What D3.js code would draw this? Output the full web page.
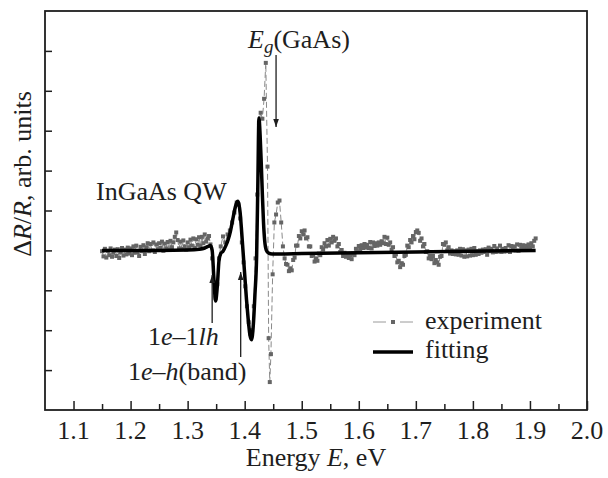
<!DOCTYPE html>
<html>
<head>
<meta charset="utf-8">
<script src="https://cdn.jsdelivr.net/npm/d3@7"></script>
<style>
  body { margin: 0; background: #fff; }
  svg { display: block; font-family: "Liberation Serif", "DejaVu Serif", serif; }
</style>
</head>
<body>
<svg id="chart" width="608" height="478"></svg>
<script>
// experiment: energy (eV) and dR/R (arb. units)
const expE = [
  1.1500, 1.1525, 1.1550, 1.1575, 1.1600, 1.1625, 1.1650, 1.1675, 1.1700, 1.1725,
  1.1750, 1.1775, 1.1800, 1.1825, 1.1850, 1.1875, 1.1900, 1.1925, 1.1950, 1.1975,
  1.2000, 1.2025, 1.2050, 1.2075, 1.2100, 1.2125, 1.2150, 1.2175, 1.2200, 1.2225,
  1.2250, 1.2275, 1.2300, 1.2325, 1.2350, 1.2375, 1.2400, 1.2425, 1.2450, 1.2475,
  1.2500, 1.2525, 1.2550, 1.2575, 1.2600, 1.2625, 1.2650, 1.2675, 1.2700, 1.2725,
  1.2750, 1.2775, 1.2800, 1.2825, 1.2850, 1.2875, 1.2900, 1.2925, 1.2950, 1.2975,
  1.3000, 1.3025, 1.3050, 1.3075, 1.3100, 1.3125, 1.3150, 1.3175, 1.3200, 1.3225,
  1.3250, 1.3275, 1.3300, 1.3325, 1.3350, 1.3375, 1.3400,
  1.343, 1.346, 1.349, 1.352, 1.355, 1.358, 1.362, 1.366, 1.370, 1.374,
  1.378, 1.382, 1.386, 1.389, 1.392, 1.395, 1.398, 1.401, 1.404, 1.407,
  1.410, 1.413, 1.416, 1.419, 1.422, 1.425, 1.428, 1.431, 1.434, 1.437,
  1.440, 1.442, 1.444, 1.446, 1.449, 1.452, 1.455, 1.458, 1.461, 1.464,
  1.467,
  1.4700, 1.4725, 1.4750, 1.4775, 1.4800, 1.4825, 1.4850, 1.4875, 1.4900, 1.4925,
  1.4950, 1.4975, 1.5000, 1.5025, 1.5050, 1.5075, 1.5100, 1.5125, 1.5150, 1.5175,
  1.5200, 1.5225, 1.5250, 1.5275, 1.5300, 1.5325, 1.5350, 1.5375, 1.5400, 1.5425,
  1.5450, 1.5475, 1.5500, 1.5525, 1.5550, 1.5575, 1.5600, 1.5625, 1.5650, 1.5675,
  1.5700, 1.5725, 1.5750, 1.5775, 1.5800, 1.5825, 1.5850, 1.5875, 1.5900, 1.5925,
  1.5950, 1.5975, 1.6000, 1.6025, 1.6050, 1.6075, 1.6100, 1.6125, 1.6150, 1.6175,
  1.6200, 1.6225, 1.6250, 1.6275, 1.6300, 1.6325, 1.6350, 1.6375, 1.6400, 1.6425,
  1.6450, 1.6475, 1.6500, 1.6525, 1.6550, 1.6575, 1.6600, 1.6625, 1.6650, 1.6675,
  1.6700, 1.6725, 1.6750, 1.6775, 1.6800, 1.6825, 1.6850, 1.6875, 1.6900, 1.6925,
  1.6950, 1.6975, 1.7000, 1.7025, 1.7050, 1.7075, 1.7100, 1.7125, 1.7150, 1.7175,
  1.7200, 1.7225, 1.7250, 1.7275, 1.7300, 1.7325, 1.7350, 1.7375, 1.7400, 1.7425,
  1.7450, 1.7475, 1.7500, 1.7525, 1.7550, 1.7575, 1.7600, 1.7625, 1.7650, 1.7675,
  1.7700, 1.7725, 1.7750, 1.7775, 1.7800, 1.7825, 1.7850, 1.7875, 1.7900, 1.7925,
  1.7950, 1.7975, 1.8000, 1.8025, 1.8050, 1.8075, 1.8100, 1.8125, 1.8150, 1.8175,
  1.8200, 1.8225, 1.8250, 1.8275, 1.8300, 1.8325, 1.8350, 1.8375, 1.8400, 1.8425,
  1.8450, 1.8475, 1.8500, 1.8525, 1.8550, 1.8575, 1.8600, 1.8625, 1.8650, 1.8675,
  1.8700, 1.8725, 1.8750, 1.8775, 1.8800, 1.8825, 1.8850, 1.8875, 1.8900, 1.8925,
  1.8950, 1.8975, 1.9000, 1.9025, 1.9050, 1.9075, 1.9100
];
const expV = [
  -0.02, -0.15, 0.04, -0.18, -0.01, -0.12, 0.05, -0.16, -0.06, 0.02,
  -0.14, 0.03, -0.19, -0.05, 0.06, -0.13, 0.02, -0.10, 0.07, -0.08,
  0.05, -0.12, 0.10, -0.06, 0.12, -0.04, -0.14, 0.09, -0.02, 0.13,
  -0.09, 0.08, 0.18, -0.02, 0.16, 0.00, 0.20, -0.04, 0.15, 0.03,
  0.18, 0.06, 0.22, -0.01, 0.17, 0.05, 0.21, 0.02, 0.24, 0.08,
  0.20, 0.34, 0.45, 0.26, 0.05, 0.22, 0.04, 0.25, 0.10, 0.02,
  0.20, 0.08, 0.27, 0.12, 0.30, 0.06, 0.28, 0.14, 0.33, 0.12,
  0.34, 0.18, 0.40, 0.22, 0.30, 0.36, 0.15,
  -0.20, -0.80, -1.20, -0.85, -0.20, 0.10, 0.35, 0.20, 0.40, 0.50,
  0.70, 0.95, 1.20, 1.15, 0.80, 0.20, -0.30, -0.90, -1.40, -1.80,
  -2.10, -2.00, -1.40, -0.20, 1.40, 3.20, 3.45, 3.30, 3.80, 4.70,
  2.10, -2.20, -3.30, -2.60, -0.60, 0.70, 0.90, 1.20, 1.25, 0.70,
  0.10,
  -0.20, -0.34, -0.36, -0.52, -0.45, -0.50, -0.24, -0.18, 0.12, 0.12,
  0.36, 0.30, 0.48, 0.40, 0.50, 0.30, 0.33, 0.10, 0.10, -0.14,
  -0.12, -0.28, -0.20, -0.26, -0.08, -0.12, 0.08, 0.02, 0.18, 0.10,
  0.26, 0.12, 0.29, 0.20, 0.34, 0.24, 0.30, 0.10, 0.16, -0.04,
  0.01, -0.14, -0.06, -0.16, -0.09, -0.19, -0.12, -0.22, -0.08, -0.12,
  0.04, -0.03, 0.11, 0.03, 0.13, 0.06, 0.16, 0.07, 0.14, 0.06,
  0.21, 0.05, 0.20, 0.11, 0.18, 0.12, 0.20, 0.14, 0.23, 0.18,
  0.34, 0.16, 0.32, 0.14, 0.20, 0.02, 0.08, -0.14, -0.10, -0.30,
  -0.26, -0.42, -0.32, -0.36, -0.14, -0.11, 0.12, 0.08, 0.26, 0.20,
  0.36, 0.28, 0.46, 0.50, 0.44, 0.24, 0.30, 0.10, 0.16, -0.04,
  -0.02, -0.20, -0.14, -0.22, -0.14, -0.32, -0.24, -0.30, -0.36, -0.16,
  -0.14, 0.16, 0.14, 0.20, 0.00, 0.08, -0.08, 0.00, -0.09, -0.02,
  -0.10, 0.00, -0.11, 0.04, -0.13, 0.03, -0.16, 0.00, -0.15, 0.02,
  -0.13, 0.04, -0.12, 0.06, -0.11, -0.02, -0.09, 0.00, -0.06, 0.02,
  -0.04, 0.03, -0.11, 0.07, -0.02, 0.04, -0.05, 0.11, -0.04, 0.05,
  -0.03, 0.12, -0.04, 0.04, -0.03, 0.06, -0.02, 0.13, -0.04, 0.11,
  0.02, 0.10, 0.00, 0.15, -0.01, 0.14, 0.05, 0.13, 0.04, 0.12,
  0.06, 0.15, 0.08, 0.18, 0.10, 0.24, 0.30
];

// fitting curve
const fitE = [
  1.150, 1.200, 1.250, 1.300, 1.320, 1.330, 1.336, 1.340, 1.343, 1.346,
  1.349, 1.352, 1.355, 1.358, 1.362, 1.367, 1.371, 1.375, 1.379, 1.383,
  1.386, 1.388, 1.390, 1.392, 1.394, 1.397, 1.400, 1.403, 1.406, 1.409,
  1.412, 1.415, 1.418, 1.421, 1.423, 1.425, 1.427, 1.429, 1.431, 1.433,
  1.435, 1.438, 1.442, 1.448, 1.460, 1.500, 1.600, 1.700, 1.800, 1.910
];
const fitV = [
  0.00, 0.00, 0.00, 0.01, 0.03, 0.06, 0.10, 0.12, 0.00, -0.70,
  -1.27, -0.90, -0.25, -0.08, -0.02, 0.12, 0.27, 0.48, 0.77, 1.05,
  1.20, 1.23, 1.15, 0.95, 0.60, 0.00, -0.60, -1.20, -1.70, -2.10,
  -2.24, -1.90, -1.10, -0.10, 1.60, 3.32, 2.90, 2.20, 1.40, 0.70,
  0.25, 0.00, -0.07, -0.09, -0.09, -0.08, -0.06, -0.04, -0.02, 0.00
];

const xTicks = [1.1, 1.2, 1.3, 1.4, 1.5, 1.6, 1.7, 1.8, 1.9, 2.0];
const xMinor = [1.15, 1.25, 1.35, 1.45, 1.55, 1.65, 1.75, 1.85, 1.95];
const yTicks = [-3, -2, -1, 0, 1, 2, 3, 4, 5];

const svg = d3.select("#chart");
const mLeft = 45, mRight = 587, mTop = 11, mBottom = 410;
const ink = "#1e1e1e";

const x = d3.scaleLinear().domain([1.05, 2.0]).range([mLeft, mRight]);
const y = d3.scaleLinear().domain([-4, 6]).range([mBottom, mTop]);

// frame
svg.append("rect")
  .attr("x", mLeft).attr("y", mTop)
  .attr("width", mRight - mLeft).attr("height", mBottom - mTop)
  .attr("fill", "none").attr("stroke", ink).attr("stroke-width", 1.8);

// x axis (ticks pointing inward)
const xAxis = svg.append("g").attr("transform", `translate(0,${mBottom})`)
  .call(d3.axisTop(x).tickValues(xTicks).tickSize(9).tickFormat(""));
xAxis.select(".domain").remove();
xAxis.selectAll("line").attr("stroke", ink).attr("stroke-width", 1.5);

const xMinorAxis = svg.append("g").attr("transform", `translate(0,${mBottom})`)
  .call(d3.axisTop(x).tickValues(xMinor).tickSize(6).tickFormat(""));
xMinorAxis.select(".domain").remove();
xMinorAxis.selectAll("line").attr("stroke", ink).attr("stroke-width", 1.5);

svg.append("g").selectAll("text")
  .data(xTicks)
  .join("text")
  .attr("x", d => x(d))
  .attr("y", 439)
  .attr("text-anchor", "middle")
  .attr("font-size", 26)
  .attr("fill", ink)
  .text(d => d.toFixed(1));

// y axis, no labels
const yAxis = svg.append("g").attr("transform", `translate(${mLeft},0)`)
  .call(d3.axisRight(y).tickValues(yTicks).tickSize(7).tickFormat(""));
yAxis.select(".domain").remove();
yAxis.selectAll("line").attr("stroke", ink).attr("stroke-width", 1.5);

// axis titles
const xt = svg.append("text")
  .attr("x", (mLeft + mRight) / 2).attr("y", 466)
  .attr("text-anchor", "middle").attr("font-size", 26).attr("fill", ink);
xt.append("tspan").text("Energy ");
xt.append("tspan").attr("font-style", "italic").text("E");
xt.append("tspan").text(", eV");

const yt = svg.append("text")
  .attr("transform", "translate(31,174) rotate(-90)")
  .attr("text-anchor", "middle").attr("font-size", 26).attr("fill", ink);
yt.append("tspan").text("\u0394");
yt.append("tspan").attr("font-style", "italic").text("R");
yt.append("tspan").text("/");
yt.append("tspan").attr("font-style", "italic").text("R");
yt.append("tspan").text(", arb. units");

// experiment
const exp = expE.map((e, i) => ({ e: e, v: expV[i] }));
const fit = fitE.map((e, i) => ({ e: e, v: fitV[i] }));

svg.append("path")
  .datum(exp)
  .attr("fill", "none")
  .attr("stroke", "#8a8a8a")
  .attr("stroke-width", 1)
  .attr("stroke-dasharray", "6,3")
  .attr("d", d3.line().x(d => x(d.e)).y(d => y(d.v)));

svg.append("g").selectAll("rect")
  .data(exp)
  .join("rect")
  .attr("x", d => x(d.e) - 2)
  .attr("y", d => y(d.v) - 2)
  .attr("width", 4).attr("height", 4)
  .attr("fill", "#656565");

// fitting
svg.append("path")
  .datum(fit)
  .attr("fill", "none")
  .attr("stroke", "#000")
  .attr("stroke-width", 3.5)
  .attr("stroke-linejoin", "round")
  .attr("d", d3.line().curve(d3.curveMonotoneX).x(d => x(d.e)).y(d => y(d.v)));

// arrows
const defs = svg.append("defs");
defs.append("marker")
  .attr("id", "head")
  .attr("viewBox", "0 0 10 10")
  .attr("refX", 10).attr("refY", 5)
  .attr("markerWidth", 10).attr("markerHeight", 8)
  .attr("markerUnits", "userSpaceOnUse")
  .attr("orient", "auto")
  .append("path").attr("d", "M0,1.5L10,5L0,8.5Z").attr("fill", ink);

const arrows = [
  { x: 1.455, y1: 55, y2: 127 },
  { x: 1.343, y1: 323, y2: 275 },
  { x: 1.393, y1: 357, y2: 272 }
];
svg.append("g").selectAll("line")
  .data(arrows)
  .join("line")
  .attr("x1", d => x(d.x)).attr("x2", d => x(d.x))
  .attr("y1", d => d.y1).attr("y2", d => d.y2)
  .attr("stroke", ink).attr("stroke-width", 1.3)
  .attr("marker-end", "url(#head)");

// annotations
const eg = svg.append("text").attr("x", 248).attr("y", 48).attr("font-size", 26).attr("fill", ink);
eg.append("tspan").attr("font-style", "italic").text("E");
eg.append("tspan").attr("font-style", "italic").attr("font-size", 19).attr("dy", 5).text("g");
eg.append("tspan").attr("dy", -5).text("(GaAs)");

svg.append("text").attr("x", 96).attr("y", 200).attr("font-size", 26).attr("fill", ink)
  .text("InGaAs QW");

const l1 = svg.append("text").attr("x", 148).attr("y", 345).attr("font-size", 26).attr("fill", ink);
l1.append("tspan").text("1");
l1.append("tspan").attr("font-style", "italic").text("e");
l1.append("tspan").text("\u20131");
l1.append("tspan").attr("font-style", "italic").text("lh");

const l2 = svg.append("text").attr("x", 128).attr("y", 380).attr("font-size", 26).attr("fill", ink);
l2.append("tspan").text("1");
l2.append("tspan").attr("font-style", "italic").text("e");
l2.append("tspan").text("\u2013");
l2.append("tspan").attr("font-style", "italic").text("h");
l2.append("tspan").text("(band)");

// legend
const lg = svg.append("g");
lg.selectAll("line.dash")
  .data([[373, 386], [400, 413]])
  .join("line")
  .attr("class", "dash")
  .attr("x1", d => d[0]).attr("x2", d => d[1])
  .attr("y1", 322).attr("y2", 322)
  .attr("stroke", "#9a9a9a").attr("stroke-width", 1);
lg.append("rect").attr("x", 391).attr("y", 320).attr("width", 4).attr("height", 4).attr("fill", "#656565");
lg.append("text").attr("x", 425).attr("y", 329).attr("font-size", 26).attr("fill", ink).text("experiment");
lg.append("line")
  .attr("x1", 373).attr("x2", 413).attr("y1", 352).attr("y2", 352)
  .attr("stroke", "#000").attr("stroke-width", 3.5);
lg.append("text").attr("x", 425).attr("y", 358).attr("font-size", 26).attr("fill", ink).text("fitting");
</script>
</body>
</html>
